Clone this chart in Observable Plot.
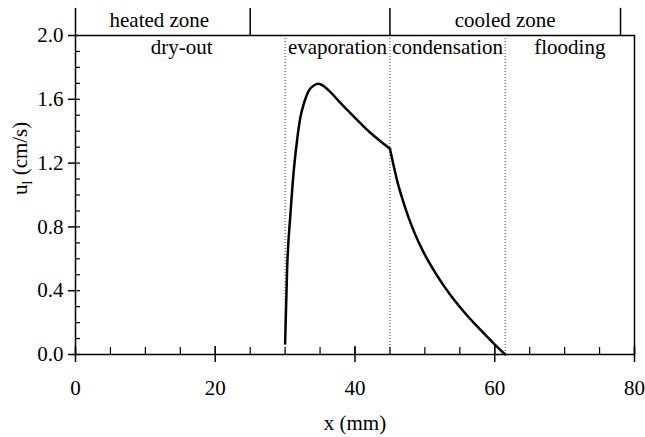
<!DOCTYPE html>
<html>
<head>
<meta charset="utf-8">
<script src="https://cdn.jsdelivr.net/npm/d3@7"></script>
<script src="https://cdn.jsdelivr.net/npm/@observablehq/plot@0.6"></script>
<style>
  html, body { margin: 0; padding: 0; background: white; }
  #chart { width: 645px; height: 437px; }
  #chart svg, #chart svg text { font-family: "Liberation Serif", "Times New Roman", Tinos, "DejaVu Serif", serif !important; }
  #chart svg { font-size: 21px !important; }
</style>
</head>
<body>
<div id="chart"></div>
<script>
// Curve: evaporation section (x in mm, u_l in cm/s)
const evapX = [30, 30.28, 30.76, 31.23, 31.7, 32.2, 32.66, 33.4, 34.1, 34.8, 35.5, 36.5, 37.9, 39.3, 40.8, 42.2, 43.6, 45];
const evapU = [0.07, 0.53, 0.88, 1.15, 1.34, 1.49, 1.57, 1.655, 1.687, 1.697, 1.683, 1.645, 1.578, 1.515, 1.449, 1.39, 1.338, 1.29];
// Curve: condensation section
const condX = [45, 45.5, 46.0, 47.0, 48.4, 49.8, 51.7, 53.6, 55.55, 57.9, 59.8, 61.5];
const condU = [1.29, 1.19, 1.095, 0.945, 0.775, 0.642, 0.498, 0.376, 0.27, 0.157, 0.072, 0.0];

// Region boundaries (dotted) and labels
const regionBounds = [30, 45, 61.5];
const regionNames = ["dry-out", "evaporation", "condensation", "flooding"];
const regionCenters = [15.2, 37.5, 53.25, 70.75];
// Zone strip above the frame
const zoneBounds = [0, 25, 45, 78];
const zoneNames = ["heated zone", "cooled zone"];
const zoneCenters = [12, 61.5];
const stripTop = 2.17;

// Ticks
const xMajor = [0, 20, 40, 60, 80];
const xMinor = d3.range(0, 81, 5);
const yMajor = [0, 0.4, 0.8, 1.2, 1.6, 2.0];
const yMinor = d3.range(0, 21, 1).map(d => d / 10);

const xLabel = "x (mm)";
const yLabel = "u_l (cm/s)";

const curve = [
  ...evapX.map((x, i) => ({x, u: evapU[i], seg: "evap"})),
  ...condX.map((x, i) => ({x, u: condU[i], seg: "cond"}))
];

const FONT = "'Liberation Serif', 'Times New Roman', Tinos, 'DejaVu Serif', serif";
const W = 645, H = 437, mL = 75, mR = 11, mT = 35, mB = 83;
const fw = W - mL - mR, fh = H - mT - mB;

const chart = Plot.plot({
  width: W, height: H,
  marginLeft: mL, marginRight: mR, marginTop: mT, marginBottom: mB,
  style: {fontFamily: FONT, fontSize: "21px", background: "white", color: "black", overflow: "visible"},
  x: {domain: [0, 80]},
  y: {domain: [0, 2]},
  marks: [
    Plot.ruleX(regionBounds, {x: d => d, y1: 0, y2: 2, stroke: "#333", strokeWidth: 1, strokeDasharray: "1,2"}),
    Plot.axisX({ticks: xMajor, tickSize: 8, tickPadding: 18, label: null, tickFormat: d => d, strokeWidth: 1.5, fontSize: 21}),
    Plot.tickX(xMinor, {x: d => d, insetTop: fh - 7, strokeWidth: 1.2}),
    Plot.tickX(xMajor, {x: d => d, insetTop: fh - 8, strokeWidth: 1.5}),
    Plot.axisY({ticks: yMajor, tickSize: 7, tickPadding: 5, label: null, tickFormat: d => d.toFixed(1), strokeWidth: 1.5, fontSize: 21}),
    Plot.tickY(yMinor, {y: d => d, insetRight: fw - 5, strokeWidth: 1.2}),
    Plot.frame({stroke: "black", strokeWidth: 1.5}),
    Plot.ruleX(zoneBounds, {x: d => d, y1: 2, y2: stripTop, stroke: "black", strokeWidth: 1.5}),
    Plot.line(curve, {x: "x", y: "u", z: "seg", curve: "monotone-x", stroke: "black", strokeWidth: 2.5}),
    Plot.text(regionNames, {x: (d, i) => regionCenters[i], text: d => d, frameAnchor: "top", lineAnchor: "middle", dy: 12, fontSize: 21}),
    Plot.text(zoneNames, {x: (d, i) => zoneCenters[i], text: d => d, frameAnchor: "top", lineAnchor: "middle", dy: -15, fontSize: 21}),
    Plot.text([xLabel], {text: d => d, frameAnchor: "bottom", lineAnchor: "middle", dy: 69, fontSize: 21}),
    Plot.text([yLabel], {text: d => d, frameAnchor: "left", lineAnchor: "middle", dx: -55, rotate: -90, fontSize: 21})
  ]
});

// Render subscript in y label
chart.querySelectorAll("text").forEach(t => {
  if (t.textContent === yLabel) {
    t.textContent = "";
    const ns = "http://www.w3.org/2000/svg";
    const a = document.createElementNS(ns, "tspan"); a.textContent = "u";
    const b = document.createElementNS(ns, "tspan"); b.textContent = "l";
    b.setAttribute("font-size", "14"); b.setAttribute("dy", "5");
    const c = document.createElementNS(ns, "tspan"); c.textContent = " (cm/s)"; c.setAttribute("dy", "-5");
    t.append(a, b, c);
  }
});
chart.querySelectorAll("g, text").forEach(el => el.setAttribute("font-family", FONT));

document.getElementById("chart").appendChild(chart);
</script>
</body>
</html>
